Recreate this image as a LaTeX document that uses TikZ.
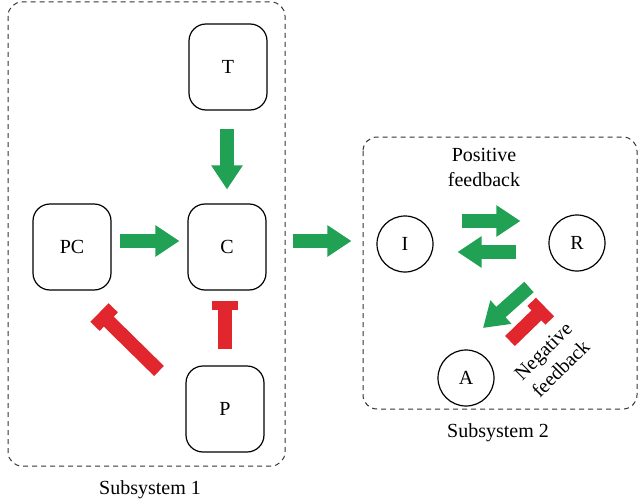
\documentclass[tikz,border=0pt]{standalone}
\usepackage{fontspec}
\setmainfont{Liberation Serif}
\usetikzlibrary{arrows.meta}

\definecolor{actgreen}{HTML}{21A153}
\definecolor{inhred}{HTML}{E1272D}

\begin{document}
\begin{tikzpicture}[x=1pt,y=-1pt,
    font=\fontsize{20}{25}\selectfont,
    frame/.style={draw=black!80,line width=1pt,dash pattern=on 5pt off 4pt,rounded corners=14pt},
    species/.style={draw,line width=1.2pt,rounded corners=17pt,minimum width=78pt,minimum height=86pt},
    state/.style={draw,line width=1.2pt,circle,minimum size=56pt,inner sep=0pt},
    activate/.style={draw=actgreen,line width=14pt,-{Triangle[width=30pt,length=24pt]}},
    inhibit/.style={draw=inhred,line width=14pt,-{Rectangle[width=26pt,length=9pt]}}]
  \useasboundingbox (0,0) rectangle (640,503);

  % Subsystem frames
  \draw[frame] (8,2) rectangle (285,466);
  \draw[frame] (363,137) rectangle (637,409);
  \node[anchor=base] (sub1) at (150,494) {Subsystem 1};
  \node[anchor=base] (sub2) at (498,437) {Subsystem 2};

  % Subsystem 1
  \node[species] (T)  at (228,67)  {T};
  \node[species] (C)  at (227,247) {C};
  \node[species] (PC) at (72,247)  {PC};
  \node[species] (P)  at (225,409) {P};

  % Subsystem 2
  \node[state] (I) at (405,244) {I};
  \node[state] (R) at (577,243) {R};
  \node[state] (A) at (466,378) {A};

  \node[align=center] (pos) at (484,167) {Positive\\feedback};
  \node[align=center,rotate=45] (neg) at (552,360) {Negative\\feedback};

  % free ends of the diagonal arrows
  \coordinate (ra1) at (529,287);
  \coordinate (ra2) at (483,328);
  \coordinate (pb1) at (159,371);
  \coordinate (pb2) at (99.5,312.5);
  \coordinate (nb1) at (510,341);
  \coordinate (nb2) at (545,307);

  % Activations
  \draw[activate,shorten <=18pt,shorten >=14pt] (T.south -| C.north) -- (C.north);
  \draw[activate,shorten <=8.5pt,shorten >=8pt] ([yshift=6pt]PC.east) -- ([yshift=6pt]C.west);
  \draw[activate,shorten <=26pt,shorten >=25pt] ([yshift=6pt]C.east) -- ([yshift=3pt]I.west);
  \draw[activate,shorten <=28pt,shorten >=28pt] ([yshift=23pt]I.east) -- ([yshift=22pt]R.west);
  \draw[activate,shorten <=32pt,shorten >=24pt] ([yshift=-9pt]R.west) -- ([yshift=-8pt]I.east);
  \draw[activate] (ra1) -- (ra2);

  % Inhibitions
  \draw[inhibit,shorten <=16pt,shorten >=10pt] (P.north) -- (P.north |- C.south);
  \draw[inhibit,-{Rectangle[width=26pt,length=13pt]}] (pb1) -- (pb2);
  \draw[inhibit,-{Rectangle[width=26pt,length=12pt]}] (nb1) -- (nb2);

\end{tikzpicture}
\end{document}
